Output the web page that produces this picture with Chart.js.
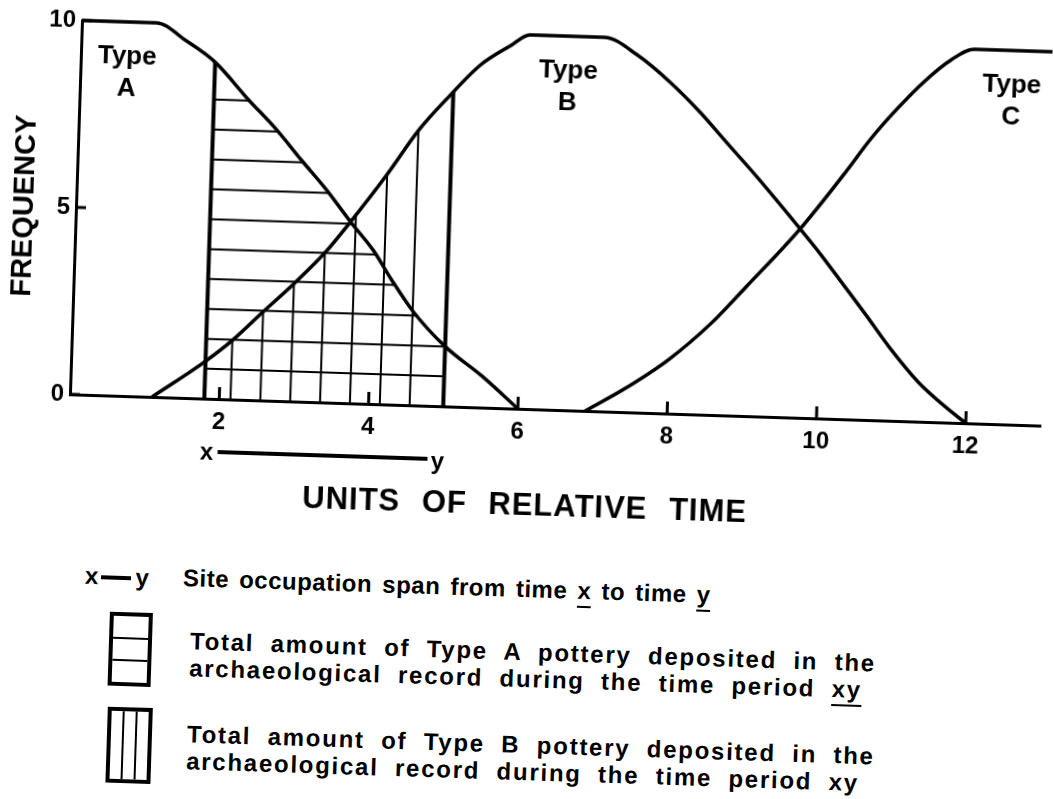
<!DOCTYPE html>
<html>
<head>
<meta charset="utf-8">
<title>Frequency of pottery types over relative time</title>
<script src="https://cdn.jsdelivr.net/npm/chart.js@4.4.1/dist/chart.umd.min.js"></script>
<style>
    html, body { margin: 0; padding: 0; background: #fff; overflow: hidden; }
    #page {
        position: absolute; left: 0; top: 0; width: 1053px; height: 799px;
        transform-origin: 526.5px 399.5px; transform: rotate(1.85deg);
        font-family: "Liberation Sans", Arial, sans-serif; font-weight: bold; color: #000;
    }
    #chartBox { position: absolute; left: 0; top: 0; width: 1053px; height: 520px; }
    .axis-title {
        position: absolute; left: 0; width: 1056px; top: 487px; line-height: 36px;
        text-align: center; font-size: 31px; letter-spacing: 1px; word-spacing: 12px;
    }
    .row {
        position: absolute; font-size: 24px; line-height: 27px; white-space: nowrap;
        letter-spacing: 1.75px; word-spacing: 8px;
    }
    .row.short { letter-spacing: 0.5px; word-spacing: 3px; }
    .row u { text-decoration-thickness: 2px; text-underline-offset: 7px; text-decoration-skip-ink: none; }
    .span-key { position: absolute; font-size: 24px; line-height: 27px; display: flex; align-items: center; }
    .span-key .bar { display: inline-block; width: 30px; height: 4px; background: #000; margin: 3px 4px 0 3px; }
    .box { position: absolute; box-sizing: border-box; border: 4px solid #000; }
    .box i { position: absolute; background: #000; }
</style>
</head>
<body>
<div id="page">
    <div id="chartBox"><canvas id="seriationChart"></canvas></div>
    <div class="axis-title">UNITS OF RELATIVE TIME</div>

    <div class="span-key" style="left:91px; top:576px;">x<span class="bar"></span>y</div>
    <div class="row short" style="left:189px; top:575px;">Site occupation span from time <u>x</u> to time <u>y</u></div>

    <div class="box" style="left:117px; top:625px; width:43px; height:74px;">
        <i style="left:0; right:0; top:21px; height:2px;"></i>
        <i style="left:0; right:0; top:43px; height:2px;"></i>
    </div>
    <div class="row" style="left:198px; top:638px;">Total amount of Type A pottery deposited in the<br>archaeological record during the time period <u>xy</u></div>

    <div class="box" style="left:118px; top:720px; width:45px; height:76px;">
        <i style="top:0; bottom:0; left:11px; width:2px;"></i>
        <i style="top:0; bottom:0; left:24px; width:2px;"></i>
    </div>
    <div class="row" style="left:198px; top:731px;">Total amount of Type B pottery deposited in the<br>archaeological record during the time period xy</div>
</div>

<script>
// tick values on both axes
const timeTicks = [2, 4, 6, 8, 10, 12];
const frequencyTicks = [0, 5, 10];

// frequency curves of the three pottery types
const typeA_time = [0, 1.0, 1.4, 1.8, 2.25, 2.65, 3.0, 3.35, 3.68, 4.0, 4.25, 4.56, 5.0, 5.5, 6.0];
const typeA_freq = [10, 10, 9.55, 9.0, 8.05, 7.25, 6.45, 5.67, 4.85, 4.1, 3.35, 2.5, 1.6, 0.85, 0];

const typeB_time = [1.1, 1.8, 2.15, 2.55, 2.95, 3.35, 3.68, 4.15, 4.55, 4.96, 5.35, 5.75, 6.0, 7.0,
                    7.45, 7.9, 8.3, 8.7, 9.1, 9.7, 10.0, 10.3, 10.6, 10.95, 11.35, 11.7, 12.0];
const typeB_freq = [0, 1.0, 1.58, 2.37, 3.15, 4.0, 4.85, 6.15, 7.35, 8.32, 9.15, 9.7, 10, 10,
                    9.55, 8.85, 8.1, 7.25, 6.4, 5.05, 4.35, 3.6, 2.85, 1.95, 1.05, 0.45, 0];

const typeC_time = [6.9, 7.4, 8.0, 8.55, 9.0, 9.7, 10.3, 10.6, 10.95, 11.3, 11.65, 11.95, 13.0];
const typeC_freq = [0, 0.6, 1.45, 2.45, 3.45, 5.05, 6.65, 7.5, 8.35, 9.1, 9.7, 10, 10];

// site occupation span x..y and the hatching inside it
const siteSpan = [1.8, 5.0];
const hatchLevelsA = [0.8, 1.6, 2.4, 3.2, 4.0, 4.8, 5.6, 6.4, 7.2, 8.0];
const hatchTimesB = [2.15, 2.55, 2.95, 3.35, 3.75, 4.15, 4.55];

// curve names and where their labels sit
const typeNames = ['A', 'B', 'C'];
const typeLabelTime = [0.62, 6.53, 12.47];
const typeLabelFreq = [9.08, 8.2];

function toPoints(xs, ys) {
    return xs.map((x, i) => ({ x: x, y: ys[i] }));
}

// linear reading of a curve at time t
function valueAt(xs, ys, t) {
    for (let i = 0; i < xs.length - 1; i++) {
        if (t >= xs[i] && t <= xs[i + 1]) {
            const f = (t - xs[i]) / (xs[i + 1] - xs[i]);
            return ys[i] + f * (ys[i + 1] - ys[i]);
        }
    }
    return 0;
}

// time at which a falling curve passes a given level
function timeAtFalling(xs, ys, level) {
    for (let i = 0; i < xs.length - 1; i++) {
        if (ys[i] > ys[i + 1] && level <= ys[i] && level >= ys[i + 1]) {
            const f = (ys[i] - level) / (ys[i] - ys[i + 1]);
            return xs[i] + f * (xs[i + 1] - xs[i]);
        }
    }
    return xs[xs.length - 1];
}

const curveStyle = {
    borderColor: '#000',
    borderWidth: 3.5,
    pointRadius: 0,
    cubicInterpolationMode: 'monotone',
    clip: false
};
const ruleStyle = {
    borderColor: '#000',
    pointRadius: 0,
    tension: 0,
    clip: false
};

const datasets = [
    { label: 'Type A', data: toPoints(typeA_time, typeA_freq), ...curveStyle },
    { label: 'Type B', data: toPoints(typeB_time, typeB_freq), ...curveStyle },
    { label: 'Type C', data: toPoints(typeC_time, typeC_freq), ...curveStyle }
];

const spanFrom = siteSpan[0];
const spanTo = siteSpan[1];

// heavy verticals at the start and end of occupation
datasets.push({
    label: 'x',
    data: [{ x: spanFrom, y: 0 }, { x: spanFrom, y: valueAt(typeA_time, typeA_freq, spanFrom) }],
    borderWidth: 4, ...ruleStyle
});
datasets.push({
    label: 'y',
    data: [{ x: spanTo, y: 0 }, { x: spanTo, y: valueAt(typeB_time, typeB_freq, spanTo) }],
    borderWidth: 4, ...ruleStyle
});

// horizontal hatching under Type A
hatchLevelsA.forEach(level => {
    const end = Math.min(timeAtFalling(typeA_time, typeA_freq, level), spanTo);
    datasets.push({
        label: 'A ' + level,
        data: [{ x: spanFrom, y: level }, { x: end, y: level }],
        borderWidth: 2, ...ruleStyle
    });
});

// vertical hatching under Type B
hatchTimesB.forEach(t => {
    datasets.push({
        label: 'B ' + t,
        data: [{ x: t, y: 0 }, { x: t, y: valueAt(typeB_time, typeB_freq, t) }],
        borderWidth: 2, ...ruleStyle
    });
});

const fontFamily = '"Liberation Sans", Arial, sans-serif';

// inward ticks, curve names and the x-y span under the axis
const annotations = {
    id: 'annotations',
    afterDraw(chart) {
        const ctx = chart.ctx;
        const x = chart.scales.x;
        const y = chart.scales.y;
        ctx.save();
        ctx.strokeStyle = '#000';
        ctx.fillStyle = '#000';
        ctx.lineWidth = 3;

        timeTicks.forEach(v => {
            const px = x.getPixelForValue(v);
            ctx.beginPath();
            ctx.moveTo(px, y.bottom);
            ctx.lineTo(px, y.bottom - 12);
            ctx.stroke();
        });
        frequencyTicks.forEach(v => {
            const py = y.getPixelForValue(v);
            ctx.beginPath();
            ctx.moveTo(x.left, py);
            ctx.lineTo(x.left + 10, py);
            ctx.stroke();
        });

        ctx.textAlign = 'center';
        ctx.textBaseline = 'middle';
        ctx.font = 'bold 26px ' + fontFamily;
        typeNames.forEach((name, i) => {
            const px = x.getPixelForValue(typeLabelTime[i]);
            ctx.fillText('Type', px, y.getPixelForValue(typeLabelFreq[0]));
            ctx.fillText(name, px, y.getPixelForValue(typeLabelFreq[1]));
        });

        const spanY = y.bottom + 54;
        const fromPx = x.getPixelForValue(spanFrom);
        const toPx = x.getPixelForValue(spanTo);
        ctx.font = 'bold 24px ' + fontFamily;
        ctx.fillText('x', fromPx + 4, spanY);
        ctx.fillText('y', toPx - 4, spanY + 2);
        ctx.lineWidth = 4;
        ctx.beginPath();
        ctx.moveTo(fromPx + 15, spanY - 1);
        ctx.lineTo(toPx - 14, spanY - 1);
        ctx.stroke();
        ctx.restore();
    }
};

Chart.defaults.color = '#000';
Chart.defaults.font.family = fontFamily;
Chart.defaults.font.weight = 'bold';

new Chart(document.getElementById('seriationChart'), {
    type: 'line',
    data: { datasets: datasets },
    plugins: [annotations],
    options: {
        responsive: true,
        maintainAspectRatio: false,
        animation: false,
        events: [],
        layout: { padding: { top: 35, right: 12, left: 0, bottom: 0 } },
        plugins: {
            legend: { display: false },
            tooltip: { enabled: false }
        },
        scales: {
            x: {
                type: 'linear',
                min: 0,
                max: 13,
                afterBuildTicks: scale => { scale.ticks = timeTicks.map(v => ({ value: v })); },
                afterFit: scale => { scale.height = 111; },
                grid: { display: false, drawTicks: false },
                border: { display: true, color: '#000', width: 3 },
                ticks: {
                    color: '#000',
                    padding: 9,
                    maxRotation: 0,
                    autoSkip: false,
                    font: { family: fontFamily, size: 24, weight: 'bold' }
                }
            },
            y: {
                type: 'linear',
                min: 0,
                max: 10,
                afterBuildTicks: scale => { scale.ticks = frequencyTicks.map(v => ({ value: v })); },
                afterFit: scale => { scale.width = 70; },
                grid: { display: false, drawTicks: false },
                border: { display: true, color: '#000', width: 3 },
                ticks: {
                    color: '#000',
                    padding: 6,
                    font: { family: fontFamily, size: 24, weight: 'bold' }
                },
                title: {
                    display: true,
                    text: 'FREQUENCY',
                    color: '#000',
                    padding: { top: 2, bottom: 0 },
                    font: { size: 29, weight: 'bold' }
                }
            }
        }
    }
});
</script>
</body>
</html>
